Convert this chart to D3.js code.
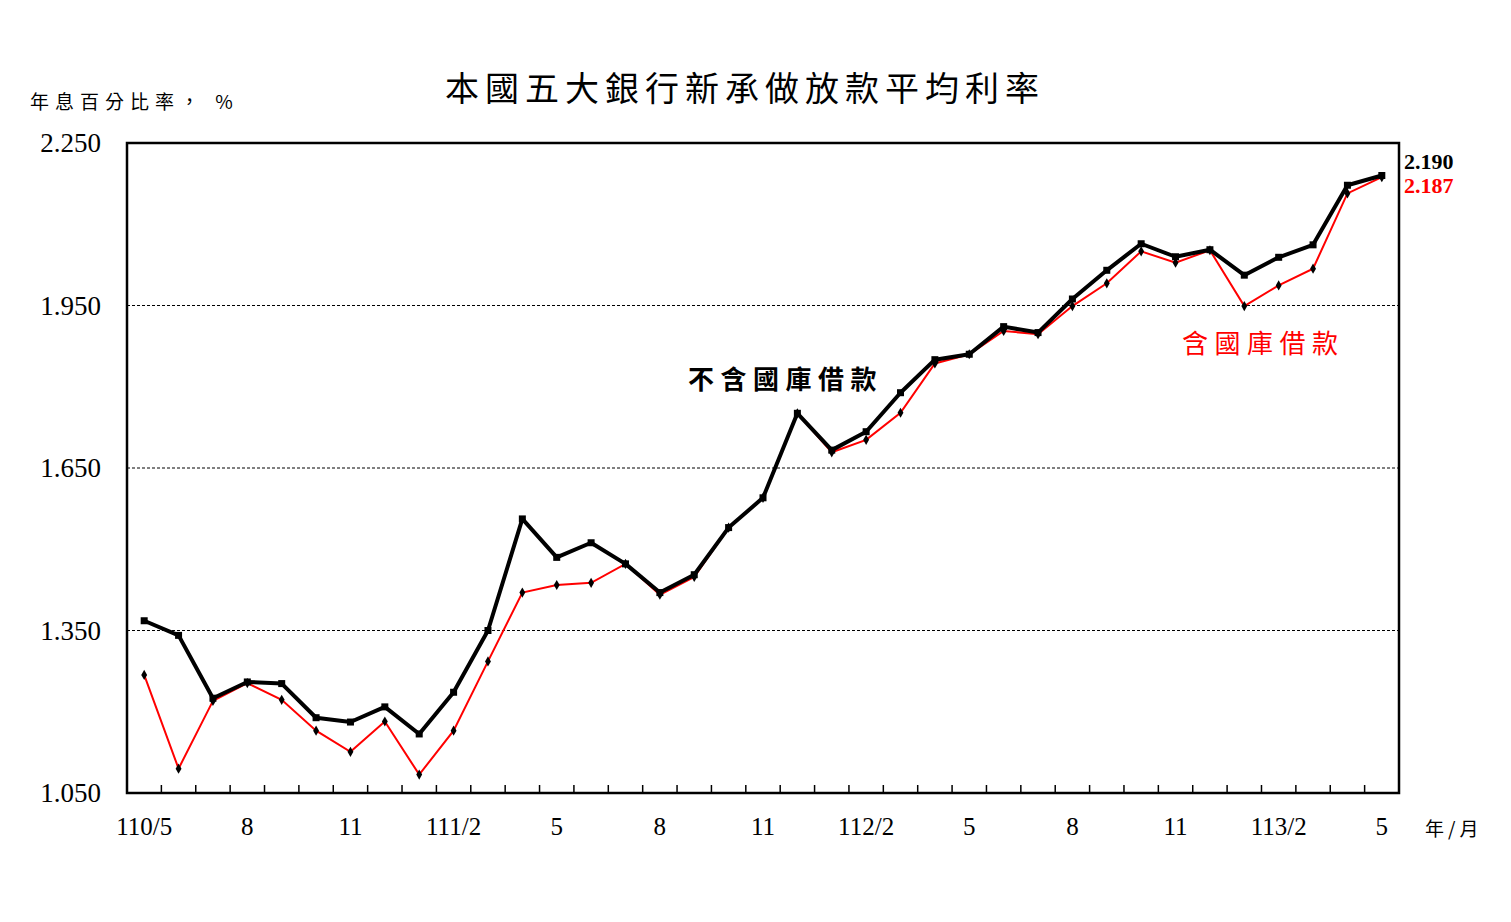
<!DOCTYPE html>
<html>
<head>
<meta charset="utf-8">
<script src="https://cdn.jsdelivr.net/npm/d3@7"></script>
<style>
  body { margin: 0; background: #fff; }
  svg { display: block; }
  .cjk { font-family: "Noto Sans CJK TC", "Noto Sans CJK SC", sans-serif; }
  .num { font-family: "Liberation Serif", "DejaVu Serif", serif; }
</style>
</head>
<body>
<svg id="chart" width="1511" height="922"></svg>
<script>
// months, 110/5 .. 113/5
var months = ["110/5","110/6","110/7","110/8","110/9","110/10","110/11","110/12",
  "111/1","111/2","111/3","111/4","111/5","111/6","111/7","111/8","111/9","111/10","111/11","111/12",
  "112/1","112/2","112/3","112/4","112/5","112/6","112/7","112/8","112/9","112/10","112/11","112/12",
  "113/1","113/2","113/3","113/4","113/5"];
// shown tick labels
var tickMonths = ["110/5","110/8","110/11","111/2","111/5","111/8","111/11","112/2","112/5","112/8","112/11","113/2","113/5"];
var tickText   = ["110/5","8","11","111/2","5","8","11","112/2","5","8","11","113/2","5"];
var yTicks = [1.050, 1.350, 1.650, 1.950, 2.250];
var gridValues = [1.350, 1.650, 1.950];

// 不含國庫借款
var exclTreasury = [1.368,1.341,1.225,1.255,1.252,1.189,1.181,1.209,1.159,1.236,1.350,1.556,
  1.485,1.512,1.473,1.420,1.453,1.540,1.595,1.751,1.683,1.717,1.789,1.850,1.860,1.911,1.900,
  1.962,2.015,2.064,2.040,2.053,2.006,2.039,2.062,2.172,2.190];
// 含國庫借款
var inclTreasury = [1.268,1.095,1.220,1.253,1.222,1.165,1.126,1.182,1.084,1.165,1.293,1.420,
  1.434,1.438,1.473,1.416,1.449,1.540,1.595,1.751,1.679,1.702,1.752,1.843,1.860,1.903,1.897,
  1.949,1.991,2.050,2.029,2.052,1.949,1.987,2.018,2.157,2.187];

function init() {
  var svg = d3.select("#chart");
  var margin = { left: 127, right: 112, top: 143, bottom: 129 };
  var width = 1511, height = 922;
  var x0 = margin.left, x1 = width - margin.right;
  var y0 = height - margin.bottom, y1 = margin.top;

  var x = d3.scaleBand().domain(months).range([x0, x1]).padding(0);
  var y = d3.scaleLinear().domain([1.05, 2.25]).range([y0, y1]);
  var cx = function(m) { return x(m) + x.bandwidth() / 2; };

  // title
  svg.append("text")
     .attr("class", "cjk")
     .attr("x", 745).attr("y", 101)
     .attr("text-anchor", "middle")
     .attr("font-size", 34)
     .attr("letter-spacing", 6)
     .text("本國五大銀行新承做放款平均利率");
  // y unit
  svg.append("text")
     .attr("class", "cjk")
     .attr("x", 30).attr("y", 109)
     .attr("font-size", 19)
     .attr("letter-spacing", 6)
     .text("年息百分比率， %");
  // x unit
  svg.append("text")
     .attr("class", "cjk")
     .attr("x", 1425).attr("y", 836)
     .attr("font-size", 19)
     .attr("letter-spacing", 4)
     .text("年/月");

  // grid
  svg.selectAll(".grid")
     .data(gridValues)
     .enter()
     .append("line")
     .attr("class", "grid")
     .attr("x1", x0).attr("x2", x1)
     .attr("y1", function(d) { return y(d); })
     .attr("y2", function(d) { return y(d); })
     .attr("stroke", "#000")
     .attr("stroke-width", 1)
     .attr("stroke-dasharray", "3,2");

  // minor ticks at band edges
  svg.selectAll(".mtick")
     .data(months.slice(1))
     .enter()
     .append("line")
     .attr("class", "mtick")
     .attr("x1", function(d) { return x(d); })
     .attr("x2", function(d) { return x(d); })
     .attr("y1", y0).attr("y2", y0 - 8)
     .attr("stroke", "#000")
     .attr("stroke-width", 1.5);

  // x axis labels
  var xAxis = d3.axisBottom(x)
     .tickValues(tickMonths)
     .tickSize(0)
     .tickPadding(24)
     .tickFormat(function(d) { return tickText[tickMonths.indexOf(d)]; });
  var gx = svg.append("g").attr("transform", "translate(0," + y0 + ")").call(xAxis);
  gx.select(".domain").remove();
  gx.selectAll("text").attr("class", "num").attr("font-size", 25).attr("fill", "#000")
     .attr("font-family", "Liberation Serif");

  // y axis labels
  var yAxis = d3.axisLeft(y)
     .tickValues(yTicks)
     .tickSize(0)
     .tickPadding(26)
     .tickFormat(d3.format(".3f"));
  var gy = svg.append("g").attr("transform", "translate(" + x0 + ",0)").call(yAxis);
  gy.select(".domain").remove();
  gy.selectAll("text").attr("font-size", 27).attr("fill", "#000")
     .attr("font-family", "Liberation Serif");

  // frame
  svg.append("rect")
     .attr("x", x0).attr("y", y1)
     .attr("width", x1 - x0).attr("height", y0 - y1)
     .attr("fill", "none")
     .attr("stroke", "#000")
     .attr("stroke-width", 2.5);

  var line = d3.line()
     .x(function(d, i) { return cx(months[i]); })
     .y(function(d) { return y(d); });

  // red series (incl. treasury)
  svg.append("path")
     .datum(inclTreasury)
     .attr("d", line)
     .attr("fill", "none")
     .attr("stroke", "#ff0000")
     .attr("stroke-width", 2);
  svg.selectAll(".redDot")
     .data(inclTreasury)
     .enter()
     .append("path")
     .attr("class", "redDot")
     .attr("d", d3.symbol().type(d3.symbolDiamond).size(30))
     .attr("transform", function(d, i) { return "translate(" + cx(months[i]) + "," + y(d) + ")"; })
     .attr("fill", "#000");

  // black series (excl. treasury)
  svg.append("path")
     .datum(exclTreasury)
     .attr("d", line)
     .attr("fill", "none")
     .attr("stroke", "#000")
     .attr("stroke-width", 4)
     .attr("stroke-linejoin", "round");
  svg.selectAll(".blackDot")
     .data(exclTreasury)
     .enter()
     .append("rect")
     .attr("class", "blackDot")
     .attr("x", function(d, i) { return cx(months[i]) - 3.5; })
     .attr("y", function(d) { return y(d) - 3.5; })
     .attr("width", 7).attr("height", 7)
     .attr("fill", "#000");

  // last values
  var last = months.length - 1;
  svg.append("text")
     .attr("x", x1 + 5).attr("y", y(exclTreasury[last]) - 7)
     .attr("font-family", "Liberation Serif")
     .attr("font-weight", "bold")
     .attr("font-size", 22)
     .attr("fill", "#000")
     .text(d3.format(".3f")(exclTreasury[last]));
  svg.append("text")
     .attr("x", x1 + 5).attr("y", y(inclTreasury[last]) + 16)
     .attr("font-family", "Liberation Serif")
     .attr("font-weight", "bold")
     .attr("font-size", 22)
     .attr("fill", "#ff0000")
     .text(d3.format(".3f")(inclTreasury[last]));

  // series labels
  svg.append("text")
     .attr("class", "cjk")
     .attr("x", 688).attr("y", 389)
     .attr("font-size", 26)
     .attr("font-weight", "bold")
     .attr("letter-spacing", 6.5)
     .text("不含國庫借款");
  svg.append("text")
     .attr("class", "cjk")
     .attr("x", 1182).attr("y", 353)
     .attr("font-size", 26)
     .attr("letter-spacing", 6.5)
     .attr("fill", "#ff0000")
     .text("含國庫借款");
}

init();
</script>
</body>
</html>
